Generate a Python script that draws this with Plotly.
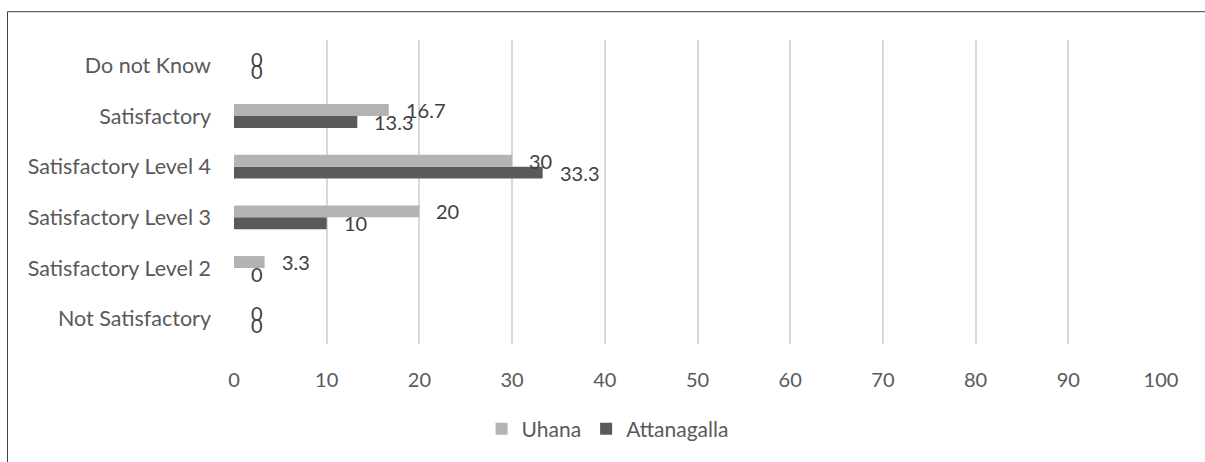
import plotly.graph_objects as go

# Survey response categories (bottom to top as drawn)
categories = [
    "Not Satisfactory",
    "Satisfactory Level 2",
    "Satisfactory Level 3",
    "Satisfactory Level 4",
    "Satisfactory",
    "Do not Know",
]
uhana = [0, 3.3, 20, 30, 16.7, 0]
attanagalla = [0, 0, 10, 33.3, 13.3, 0]
x_ticks = [0, 10, 20, 30, 40, 50, 60, 70, 80, 90, 100]

FONT = "Lato"
LIGHT = "#b3b3b3"
DARK = "#5a5a5a"
AXIS_TXT = "#595959"
LABEL_TXT = "#404040"

W, H = 1205, 462
ML, MR, MT, MB = 234, 44, 40, 116

fig = go.Figure()
# Attanagalla first so it sits below Uhana within each group
fig.add_trace(go.Bar(
    y=categories, x=attanagalla, name="Attanagalla", orientation="h",
    marker=dict(color=DARK, line=dict(width=0)),
))
fig.add_trace(go.Bar(
    y=categories, x=uhana, name="Uhana", orientation="h",
    marker=dict(color=LIGHT, line=dict(width=0)),
))

# Value labels just past the end of each bar
annotations = []
for series, shift in ((uhana, 6), (attanagalla, -6)):
    for cat, val in zip(categories, series):
        annotations.append(dict(
            x=val, y=cat, xref="x", yref="y",
            text=f"{val:g}", showarrow=False,
            xanchor="left", yanchor="middle",
            xshift=15, yshift=shift,
            font=dict(family=FONT, size=20, color=LABEL_TXT),
        ))

pw = W - ML - MR
ph = H - MT - MB
# Outer frame around the chart
fig.add_shape(
    type="rect", xref="paper", yref="paper",
    x0=(7.5 - ML) / pw, x1=(W + 10 - ML) / pw,
    y0=-(MB + 10) / ph, y1=1 + (MT - 11.5) / ph,
    line=dict(color="#404040", width=1), fillcolor="rgba(0,0,0,0)",
    layer="below",
)

fig.update_layout(
    width=W, height=H,
    margin=dict(l=ML, r=MR, t=MT, b=MB),
    paper_bgcolor="white", plot_bgcolor="white",
    barmode="group", bargap=0.53, bargroupgap=0,
    font=dict(family=FONT, color=AXIS_TXT),
    showlegend=True,
    legend=dict(
        orientation="h", traceorder="reversed",
        x=0.403, xanchor="center", y=-0.28, yanchor="middle",
        font=dict(family=FONT, size=21, color=AXIS_TXT),
        bgcolor="rgba(0,0,0,0)",
    ),
    annotations=annotations,
    xaxis=dict(
        range=[0, 100], tickvals=x_ticks, showgrid=True,
        gridcolor="#d9d9d9", gridwidth=2, zeroline=False,
        showline=False, ticks="", ticklabelstandoff=22,
        tickfont=dict(family=FONT, size=20, color=AXIS_TXT),
    ),
    yaxis=dict(
        categoryorder="array", categoryarray=categories,
        showgrid=False, zeroline=False, showline=False, ticks="",
        ticklabelstandoff=22,
        tickfont=dict(family=FONT, size=21.5, color=AXIS_TXT),
    ),
)

fig.write_html("out.html")
